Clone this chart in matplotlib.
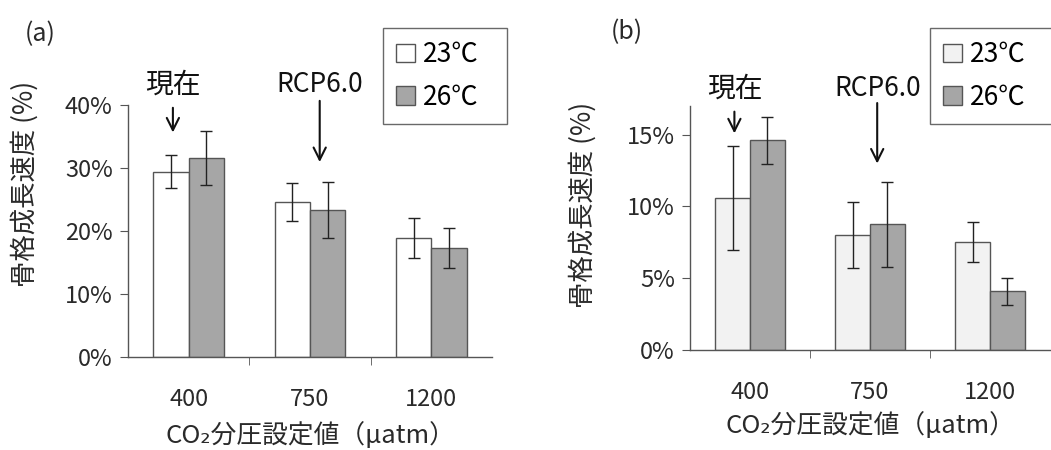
import numpy as np
import matplotlib
matplotlib.use("Agg")
import matplotlib.pyplot as plt

plt.rcParams['font.family'] = ['Noto Sans CJK JP', 'DejaVu Sans']
plt.rcParams['axes.linewidth'] = 1.0

categories = ['400', '750', '1200']
series = ['23℃', '26℃']

# panel (a)
a_23 = [0.294, 0.246, 0.189]
a_23_err = [0.026, 0.030, 0.032]
a_26 = [0.316, 0.233, 0.173]
a_26_err = [0.043, 0.044, 0.032]

# panel (b)
b_23 = [0.106, 0.080, 0.075]
b_23_err = [0.036, 0.023, 0.014]
b_26 = [0.146, 0.0875, 0.041]
b_26_err = [0.0165, 0.0295, 0.0095]

W, H = 1051, 450
fig = plt.figure(figsize=(W / 100, H / 100), dpi=100)

def px_axes(left, right, top, bottom):
    return fig.add_axes([left / W, 1 - bottom / H, (right - left) / W, (bottom - top) / H])

ax1 = px_axes(128, 492, 105, 357)
ax2 = px_axes(690, 1050, 106, 350)

edge = '#555555'
txt_c = '#2a2a2a'
c26 = '#a6a6a6'
x = np.arange(len(categories))
bw = 0.29

def draw(ax, v23, e23, v26, e26, c23, ymax, yticks, ylabels, ylab_xy, xlab_pad):
    b1 = ax.bar(x - bw / 2, v23, bw, color=c23, edgecolor=edge, lw=1.0, label=series[0])
    b2 = ax.bar(x + bw / 2, v26, bw, color=c26, edgecolor=edge, lw=1.0, label=series[1])
    ax.errorbar(x - bw / 2, v23, yerr=e23, fmt='none', ecolor='#222222', elinewidth=1.0, capsize=4, capthick=1.0)
    ax.errorbar(x + bw / 2, v26, yerr=e26, fmt='none', ecolor='#222222', elinewidth=1.0, capsize=4, capthick=1.0)
    ax.set_xlim(-0.5, 2.5)
    ax.set_ylim(0, ymax)
    ax.set_yticks(yticks)
    ax.set_yticklabels(ylabels, fontsize=17, color=txt_c)
    ax.set_xticks(x)
    ax.set_xticklabels(categories, fontsize=17, color=txt_c)
    ax.tick_params(axis='x', length=0, pad=22)
    ax.set_xticks([0.5, 1.5], minor=True)
    ax.tick_params(axis='x', which='minor', length=6, direction='out', color=edge)
    ax.tick_params(axis='y', length=6, direction='out', color=edge, pad=5)
    for s in ['top', 'right']:
        ax.spines[s].set_visible(False)
    ax.spines['left'].set_color(edge)
    ax.spines['bottom'].set_color(edge)
    ax.set_ylabel('骨格成長速度 (%)', fontsize=19, color=txt_c, va='center')
    ax.yaxis.set_label_coords(*ylab_xy)
    ax.set_xlabel('CO₂分圧設定値（μatm）', fontsize=18.5, color=txt_c, labelpad=xlab_pad)
    return b1, b2

draw(ax1, a_23, a_23_err, a_26, a_26_err, 'white', 0.40,
     [0, 0.1, 0.2, 0.3, 0.4], ['0%', '10%', '20%', '30%', '40%'], (-0.283, 0.687), 8)
draw(ax2, b_23, b_23_err, b_26, b_26_err, '#f2f2f2', 0.17,
     [0, 0.05, 0.10, 0.15], ['0%', '5%', '10%', '15%'], (-0.297, 0.594), 6)

arw = dict(arrowstyle='->', lw=1.5, color='#111111', mutation_scale=22)

def mark(ax, txt, xp, ytxt, ytail, yhead, fs):
    ax.text(xp, ytxt, txt, ha='center', va='center', fontsize=fs, color='#111111', clip_on=False)
    ax.annotate('', xy=(xp, yhead), xytext=(xp, ytail), arrowprops=arw, annotation_clip=False)

mark(ax1, '現在', -0.13, 0.432, 0.400, 0.352, 20)
mark(ax1, 'RCP6.0', 1.08, 0.432, 0.411, 0.305, 19)
mark(ax2, '現在', -0.13, 0.182, 0.168, 0.149, 20)
mark(ax2, 'RCP6.0', 1.06, 0.182, 0.174, 0.128, 19)

fig.text(25 / W, 1 - 34 / H, '(a)', fontsize=18, ha='left', va='center', color=txt_c)
fig.text(611 / W, 1 - 32 / H, '(b)', fontsize=18, ha='left', va='center', color=txt_c)

for ax, xl in [(ax1, 383), (ax2, 930)]:
    ax.legend(loc='upper left', bbox_to_anchor=(xl / W, 1 - 126 / H, 124 / W, 98 / H),
              bbox_transform=fig.transFigure, mode='expand',
              fontsize=19, frameon=True, fancybox=False, edgecolor='#444444',
              handlelength=0.7, handleheight=0.7, handletextpad=0.3,
              labelspacing=0.58, borderpad=0.5, borderaxespad=0)

fig.savefig('out.png', dpi=100, facecolor='white')
